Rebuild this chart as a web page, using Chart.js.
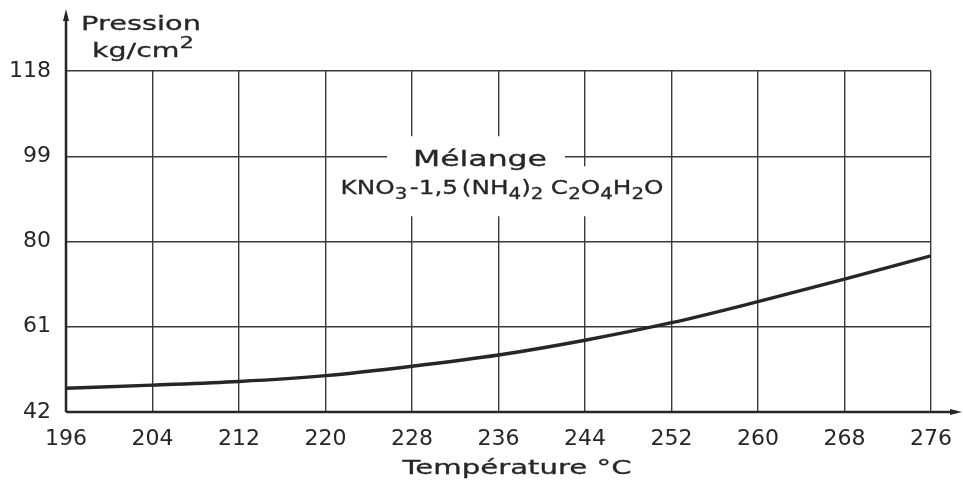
<!DOCTYPE html>
<html>
<head>
<meta charset="utf-8">
<script src="https://cdn.jsdelivr.net/npm/chart.js@4/dist/chart.umd.min.js"></script>
<style>
  html, body { margin: 0; padding: 0; background: #fff; }
</style>
</head>
<body>
<canvas id="chart" width="963" height="484"></canvas>
<script>
// values
const temperatures = [196, 204, 212, 220, 228, 236, 244, 252, 260, 268, 276];
const pressures = [47.3, 48.0, 48.8, 50.1, 52.2, 54.7, 58.0, 61.9, 66.6, 71.6, 76.8];
const xTicks = [196, 204, 212, 220, 228, 236, 244, 252, 260, 268, 276];
const yTicks = [42, 61, 80, 99, 118];

const ink = '#262626';
const font = '"DejaVu Sans", sans-serif';

// draws text pieces with sub/superscripts, returns the width
function drawRich(ctx, parts, x, y, size, measureOnly) {
  let w = 0;
  parts.forEach(p => {
    const s = p.sub || p.sup ? Math.round(size * 0.8) : size;
    ctx.font = s + 'px ' + font;
    const dy = p.sub ? size * 0.25 : p.sup ? -size * 0.45 : 0;
    if (!measureOnly) {
      ctx.fillText(p.t, x + w, y + dy);
      ctx.strokeText(p.t, x + w, y + dy); // pen lettering is a bit heavier
    }
    w += ctx.measureText(p.t).width + (p.gap || 0);
  });
  return w;
}

// lettering on the original is wide, so stretch the text to a given width
function wideRich(ctx, parts, cx, y, size, width) {
  const w = drawRich(ctx, parts, 0, 0, size, true);
  const sx = width / w;
  ctx.save();
  ctx.textAlign = 'left';
  ctx.lineWidth = 0.3;
  ctx.translate(cx - width / 2, y);
  ctx.scale(sx, 1);
  drawRich(ctx, parts, 0, 0, size);
  ctx.restore();
}

const annotations = {
  id: 'annotations',
  afterDatasetsDraw(chart) {
    const { ctx, chartArea: a, scales: { y } } = chart;
    ctx.save();
    ctx.fillStyle = ink;
    ctx.strokeStyle = ink;
    ctx.textBaseline = 'alphabetic';

    // axes with arrows
    ctx.lineWidth = 2.5;
    ctx.beginPath();
    ctx.moveTo(a.left, a.bottom);
    ctx.lineTo(a.left, 16);
    ctx.moveTo(a.left, a.bottom);
    ctx.lineTo(956, a.bottom);
    ctx.stroke();
    ctx.beginPath();
    ctx.moveTo(a.left, 9); ctx.lineTo(a.left - 3, 21); ctx.lineTo(a.left + 3, 21); ctx.closePath();
    ctx.moveTo(962, a.bottom); ctx.lineTo(950, a.bottom - 3); ctx.lineTo(950, a.bottom + 3); ctx.closePath();
    ctx.fill();

    // axis titles
    wideRich(ctx, [{ t: 'Pression' }], 141, 30, 20, 120);
    wideRich(ctx, [{ t: 'kg/cm' }, { t: '2', sup: true }], 143, 57, 20, 102);
    wideRich(ctx, [{ t: 'Température °C' }], 517, 474, 20, 229);

    // label in the plot, on a white patch that cuts the grid
    const y1 = y.getPixelForValue(99);
    ctx.fillStyle = '#fff';
    ctx.fillRect(387, y1 - 20, 178, 30);
    ctx.fillRect(342, y1 + 10, 326, 50);
    ctx.fillStyle = ink;
    wideRich(ctx, [{ t: 'Mélange' }], 480, y1 + 10, 21, 134);
    const formula = [
      { t: 'KNO' }, { t: '3', sub: true, gap: 2 }, { t: '-1,5', gap: 3 }, { t: '(NH' }, { t: '4', sub: true },
      { t: ')' }, { t: '2', sub: true, gap: 6 }, { t: 'C' }, { t: '2', sub: true }, { t: 'O' },
      { t: '4', sub: true }, { t: 'H' }, { t: '2', sub: true }, { t: 'O' }
    ];
    wideRich(ctx, formula, 502, y1 + 38, 20, 323);
    ctx.restore();
  }
};

new Chart(document.getElementById('chart'), {
  type: 'line',
  data: {
    datasets: [{
      data: temperatures.map((t, i) => ({ x: t, y: pressures[i] })),
      borderColor: ink,
      borderWidth: 3.4,
      pointRadius: 0,
      tension: 0.4,
      cubicInterpolationMode: 'monotone',
      fill: false
    }]
  },
  options: {
    responsive: false,
    animation: false,
    devicePixelRatio: 1,
    layout: { padding: { left: 0, top: 71, right: 32, bottom: 0 } },
    plugins: { legend: { display: false }, tooltip: { enabled: false } },
    scales: {
      x: {
        type: 'linear',
        min: 196,
        max: 276,
        afterBuildTicks: s => { s.ticks = xTicks.map(v => ({ value: v })); },
        afterFit: s => { s.height = 72; s.paddingLeft = 0; s.paddingRight = 0; },
        border: { display: false },
        grid: { color: '#3a3a3a', lineWidth: 1.4, drawTicks: false },
        ticks: { color: ink, padding: 14, font: { family: font, size: 22 }, maxRotation: 0 }
      },
      y: {
        type: 'linear',
        min: 42,
        max: 118,
        afterBuildTicks: s => { s.ticks = yTicks.map(v => ({ value: v })); },
        afterFit: s => { s.width = 66; s.paddingTop = 0; s.paddingBottom = 0; },
        border: { display: false },
        grid: { color: '#3a3a3a', lineWidth: 1.4, drawTicks: false },
        ticks: { color: ink, padding: 15, font: { family: font, size: 22 } }
      }
    }
  },
  plugins: [annotations]
});
</script>
</body>
</html>
